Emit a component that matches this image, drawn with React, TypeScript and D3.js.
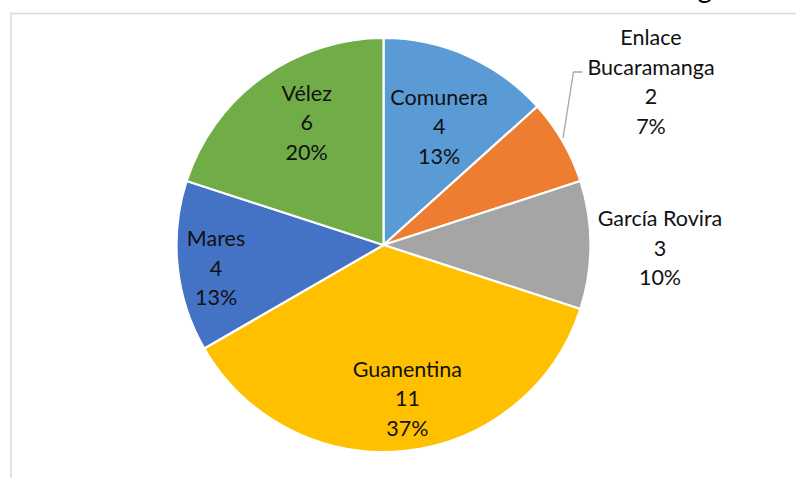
import React from "react";
import * as d3 from "d3";

const categories = ["Comunera", "Enlace Bucaramanga", "García Rovira", "Guanentina", "Mares", "Vélez"];
const values = [4, 2, 3, 11, 4, 6];
const colors = ["#5B9BD5", "#ED7D31", "#A5A5A5", "#FFC000", "#4472C4", "#70AD47"];
const labelLines = [["Comunera"], ["Enlace", "Bucaramanga"], ["García Rovira"], ["Guanentina"], ["Mares"], ["Vélez"]];

const W = 796, H = 478;
const cx = 383.5, cy = 245, R = 207;
const FONT = "Lato, 'Open Sans', sans-serif";
const LH = 29.5;

export default function App() {
  const total = d3.sum(values);
  const pie = d3.pie<number>().sort(null).value((d) => d)(values);
  const arc = d3.arc<d3.PieArcDatum<number>>().innerRadius(0).outerRadius(R);
  const labelRadius = [131, 0, 277, 155, 169, 145];
  const labelAngleShift = [0.02, 0, 0, -0.05, -0.03, 0.07];
  const outside: Record<number, [number, number]> = { 1: [651, 81.5], 2: [660, 247.5] };

  return (
    <div style={{ position: "absolute", left: 0, top: 0 }}>
      <svg width={W} height={H} style={{ display: "block", background: "#fff" }}>
        <text x={712} y={-2} fontSize={28} fontFamily={FONT} textAnchor="end" fill="#000">g</text>
        <path d={`M11,${H} V13.5 H${W}`} fill="none" stroke="#D9D9D9" strokeWidth={1.5} />
        <g transform={`translate(${cx},${cy})`}>
          {pie.map((p, i) => (
            <path key={i} d={arc(p) || ""} fill={colors[i]} stroke="#fff" strokeWidth={2.2} strokeLinejoin="round" />
          ))}
        </g>
        <polyline points="582,72 573.5,72 563,138" fill="none" stroke="#A6A6A6" strokeWidth={1.3} />
        {pie.map((p, i) => {
          let x: number, y: number;
          if (outside[i]) {
            [x, y] = outside[i];
          } else {
            const a = (p.startAngle + p.endAngle) / 2 + labelAngleShift[i];
            x = cx + labelRadius[i] * Math.sin(a);
            y = cy - labelRadius[i] * Math.cos(a);
          }
          const lines = [...labelLines[i], String(values[i]), `${Math.round((values[i] / total) * 100)}%`];
          const y0 = y - ((lines.length - 1) * LH) / 2;
          return (
            <text key={i} fontFamily={FONT} fontSize={21.5} fill="#111" textAnchor="middle" dominantBaseline="central">
              {lines.map((l, j) => (
                <tspan key={j} x={x} y={y0 + j * LH}>{l}</tspan>
              ))}
            </text>
          );
        })}
      </svg>
    </div>
  );
}
